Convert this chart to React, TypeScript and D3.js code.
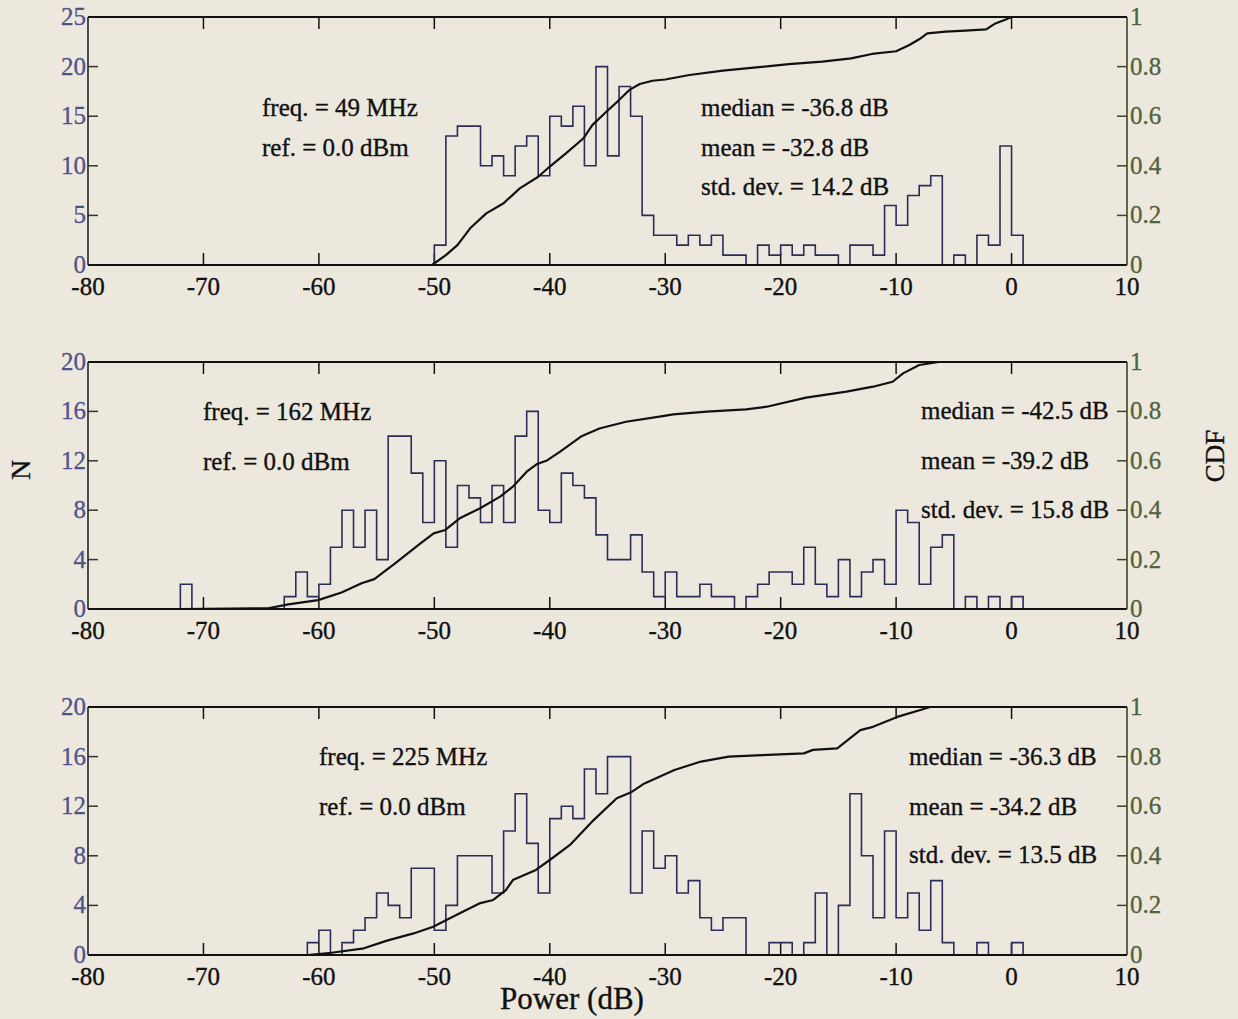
import React from 'react';
import * as d3 from 'd3';

// ---------- data ----------
const xTicks = [-80, -70, -60, -50, -40, -30, -20, -10, 0, 10];
const cdfTicks = [0, 0.2, 0.4, 0.6, 0.8, 1];
const cdfTickLabels = ['0', '0.2', '0.4', '0.6', '0.8', '1'];

// Panel 1 (49 MHz): histogram counts, 1 dB bins starting at p1Start
const p1Start = -50;
const p1Counts = [2, 13, 14, 14, 10, 11, 9, 12, 13, 9, 15, 14, 16, 10, 20, 11, 18, 15, 5, 3, 3, 2, 3, 2, 3, 1, 1, 0, 2, 1, 2, 1, 2, 1, 1, 0, 2, 2, 1, 6, 4, 7, 8, 9, 0, 1, 0, 3, 2, 12, 3];
const p1NTicks = [0, 5, 10, 15, 20, 25];
const p1NMax = 25;
const p1CdfDb = [-50.2, -49, -48, -46.9, -45.5, -44, -42.6, -41, -40, -38.6, -37.1, -36.3, -35.1, -34, -33.1, -32.2, -31.1, -30, -27.9, -25, -22.1, -19.3, -16.4, -13.9, -12.1, -10, -8.85, -8, -7.3, -5.7, -4, -2.2, -1.4, -0.5, 0, 10];
const p1CdfVal = [0, 0.04, 0.08, 0.148, 0.208, 0.249, 0.309, 0.356, 0.397, 0.45, 0.51, 0.565, 0.618, 0.665, 0.706, 0.73, 0.743, 0.748, 0.766, 0.784, 0.797, 0.81, 0.82, 0.833, 0.851, 0.862, 0.887, 0.91, 0.934, 0.941, 0.945, 0.95, 0.974, 0.99, 1, 1];
const p1LeftText = ['freq. = 49 MHz', 'ref. = 0.0 dBm'];
const p1RightText = ['median = -36.8 dB', 'mean = -32.8 dB', 'std. dev. = 14.2 dB'];

// Panel 2 (162 MHz)
const p2Start = -72;
const p2Counts = [2, 0, 0, 0, 0, 0, 0, 0, 0, 1, 3, 1, 2, 5, 8, 5, 8, 4, 14, 14, 11, 7, 12, 5, 10, 9, 7, 10, 7, 14, 16, 8, 7, 11, 10, 9, 6, 4, 4, 6, 3, 1, 3, 1, 1, 2, 1, 1, 0, 1, 2, 3, 3, 2, 5, 2, 1, 4, 1, 3, 4, 2, 8, 7, 2, 5, 6, 0, 1, 0, 1, 0, 1];
const p2NTicks = [0, 4, 8, 12, 16, 20];
const p2NMax = 20;
const p2CdfDb = [-72, -64.4, -62.65, -60.06, -58.04, -56.3, -55.2, -53.4, -51.2, -50.06, -49.05, -47.8, -46.03, -44.3, -43.2, -42, -41.15, -40.3, -39.1, -37.3, -35.7, -33.4, -30.5, -29.3, -26.4, -23, -21.2, -17.8, -14.3, -12, -10.3, -9.4, -8, -6.3, 10];
const p2CdfVal = [0, 0.003, 0.019, 0.036, 0.067, 0.104, 0.121, 0.185, 0.266, 0.306, 0.32, 0.367, 0.408, 0.455, 0.495, 0.556, 0.586, 0.6, 0.637, 0.698, 0.731, 0.758, 0.779, 0.788, 0.799, 0.808, 0.819, 0.856, 0.88, 0.9, 0.92, 0.954, 0.988, 1, 1];
const p2LeftText = ['freq. = 162 MHz', 'ref. = 0.0 dBm'];
const p2RightText = ['median = -42.5 dB', 'mean = -39.2 dB', 'std. dev. = 15.8 dB'];

// Panel 3 (225 MHz)
const p3Start = -61;
const p3Counts = [1, 2, 0, 1, 2, 3, 5, 4, 3, 7, 7, 2, 4, 8, 8, 8, 5, 10, 13, 9, 5, 11, 12, 11, 15, 13, 16, 16, 5, 10, 7, 8, 5, 6, 3, 2, 3, 3, 0, 0, 1, 1, 0, 1, 5, 0, 4, 13, 8, 3, 10, 3, 5, 2, 6, 1, 0, 0, 1, 0, 0, 1];
const p3NTicks = [0, 4, 8, 12, 16, 20];
const p3NMax = 20;
const p3CdfDb = [-61, -58.9, -56.1, -54.1, -51.8, -50.1, -48.1, -46.1, -44.9, -43.8, -43.2, -41.2, -40, -38.25, -36.2, -34.2, -33, -31.8, -29.2, -26.9, -24.5, -21.6, -18, -17.2, -15.1, -13.1, -12, -9.9, -7.9, -7.05, 10];
const p3CdfVal = [0, 0.009, 0.027, 0.058, 0.087, 0.114, 0.161, 0.208, 0.222, 0.262, 0.302, 0.343, 0.383, 0.444, 0.544, 0.632, 0.655, 0.692, 0.746, 0.78, 0.8, 0.806, 0.813, 0.827, 0.833, 0.907, 0.92, 0.96, 0.988, 1, 1];
const p3LeftText = ['freq. = 225 MHz', 'ref. = 0.0 dBm'];
const p3RightText = ['median = -36.3 dB', 'mean = -34.2 dB', 'std. dev. = 13.5 dB'];

// ---------- layout ----------
const W = 1238;
const H = 1019;
const X0 = 88;
const X1 = 1127;
const FONT = '"Liberation Serif", "Times New Roman", "DejaVu Serif", serif';
const BG = '#ece8de';
const HIST = '#2c2c58';
const LEFTC = '#52528a';
const RIGHTC = '#52623a';

type PanelDef = {
  start: number;
  counts: number[];
  nTicks: number[];
  nMax: number;
  cdfDb: number[];
  cdfVal: number[];
  left: string[];
  right: string[];
  top: number;
  bottom: number;
  leftX: number;
  leftY: number[];
  rightX: number;
  rightY: number[];
};

const panels: PanelDef[] = [
  { start: p1Start, counts: p1Counts, nTicks: p1NTicks, nMax: p1NMax, cdfDb: p1CdfDb, cdfVal: p1CdfVal, left: p1LeftText, right: p1RightText, top: 17, bottom: 265, leftX: 262, leftY: [116, 156], rightX: 701, rightY: [116, 156, 195] },
  { start: p2Start, counts: p2Counts, nTicks: p2NTicks, nMax: p2NMax, cdfDb: p2CdfDb, cdfVal: p2CdfVal, left: p2LeftText, right: p2RightText, top: 362, bottom: 609, leftX: 203, leftY: [420, 470], rightX: 921, rightY: [419, 469, 518] },
  { start: p3Start, counts: p3Counts, nTicks: p3NTicks, nMax: p3NMax, cdfDb: p3CdfDb, cdfVal: p3CdfVal, left: p3LeftText, right: p3RightText, top: 707, bottom: 955, leftX: 319, leftY: [765, 815], rightX: 909, rightY: [765, 815, 863] },
];

const x = d3.scaleLinear().domain([-80, 10]).range([X0, X1]);

function Panel({ p }: { p: PanelDef }) {
  const y = d3.scaleLinear().domain([0, p.nMax]).range([p.bottom, p.top]);
  const yc = d3.scaleLinear().domain([0, 1]).range([p.bottom, p.top]);

  const pts: [number, number][] = [[p.start, 0]];
  p.counts.forEach((c, i) => {
    pts.push([p.start + i, c]);
    pts.push([p.start + i + 1, c]);
  });
  pts.push([p.start + p.counts.length, 0]);
  const histPath = d3.line<[number, number]>().x(d => x(d[0])).y(d => y(d[1]))(pts) || '';

  const cdfPts: [number, number][] = p.cdfDb.map((d, i) => [d, p.cdfVal[i]]);
  const cdfPath = d3.line<[number, number]>().x(d => x(d[0])).y(d => yc(d[1]))(cdfPts) || '';

  const TL = 12;
  const txt = { stroke: '#111', strokeWidth: 0.35 };
  return (
    <g>
      {xTicks.slice(1, -1).map(t => (
        <g key={'xt' + t}>
          <line x1={x(t)} x2={x(t)} y1={p.bottom} y2={p.bottom - TL} stroke="#111" strokeWidth={1.5} />
          <line x1={x(t)} x2={x(t)} y1={p.top} y2={p.top + TL} stroke="#111" strokeWidth={1.5} />
        </g>
      ))}
      {p.nTicks.slice(1, -1).map(t => (
        <line key={'lt' + t} x1={X0} x2={X0 + 10} y1={y(t)} y2={y(t)} stroke="#333" strokeWidth={1.5} />
      ))}
      {cdfTicks.slice(1, -1).map(t => (
        <line key={'rt' + t} x1={X1} x2={X1 - 10} y1={yc(t)} y2={yc(t)} stroke="#3c4628" strokeWidth={1.5} />
      ))}
      <path d={histPath} fill="none" stroke={HIST} strokeWidth={1.6} />
      <path d={cdfPath} fill="none" stroke="#111" strokeWidth={2.2} strokeLinejoin="round" />
      <line x1={X0} x2={X1} y1={p.top} y2={p.top} stroke="#111" strokeWidth={1.8} />
      <line x1={X0} x2={X1} y1={p.bottom} y2={p.bottom} stroke="#111" strokeWidth={1.8} />
      <line x1={X0} x2={X0} y1={p.top} y2={p.bottom} stroke="#222" strokeWidth={1.6} />
      <line x1={X1} x2={X1} y1={p.top} y2={p.bottom} stroke="#3c4628" strokeWidth={1.6} />
      {xTicks.map(t => (
        <text key={'xl' + t} x={x(t)} y={p.bottom + 30} textAnchor="middle" fontSize={25} fill="#111" {...txt}>{t}</text>
      ))}
      {p.nTicks.map(t => (
        <text key={'ll' + t} x={X0 - 2} y={y(t) + 8} textAnchor="end" fontSize={25} fill={LEFTC} stroke={LEFTC} strokeWidth={0.3}>{t}</text>
      ))}
      {cdfTicks.map((t, i) => (
        <text key={'rl' + t} x={X1 + 3} y={yc(t) + 8} textAnchor="start" fontSize={25} fill={RIGHTC} stroke={RIGHTC} strokeWidth={0.3}>{cdfTickLabels[i]}</text>
      ))}
      {p.left.map((s, i) => (
        <text key={'lt' + i} x={p.leftX} y={p.leftY[i]} fontSize={25} fill="#111" {...txt}>{s}</text>
      ))}
      {p.right.map((s, i) => (
        <text key={'rtx' + i} x={p.rightX} y={p.rightY[i]} fontSize={25} fill="#111" {...txt}>{s}</text>
      ))}
    </g>
  );
}

export default function App() {
  return (
    <svg width={W} height={H} style={{ position: 'absolute', left: 0, top: 0, fontFamily: FONT }}>
      <rect x={0} y={0} width={W} height={H} fill={BG} />
      {panels.map((p, i) => (
        <Panel key={i} p={p} />
      ))}
      <text x={0} y={0} transform="translate(30,470) rotate(-90)" textAnchor="middle" fontSize={28} fill="#111" stroke="#111" strokeWidth={0.35}>N</text>
      <text x={0} y={0} transform="translate(1224,456) rotate(-90)" textAnchor="middle" fontSize={27} fill="#111" stroke="#111" strokeWidth={0.35}>CDF</text>
      <text x={572} y={1009} textAnchor="middle" fontSize={31} fill="#111" stroke="#111" strokeWidth={0.35}>Power (dB)</text>
    </svg>
  );
}
